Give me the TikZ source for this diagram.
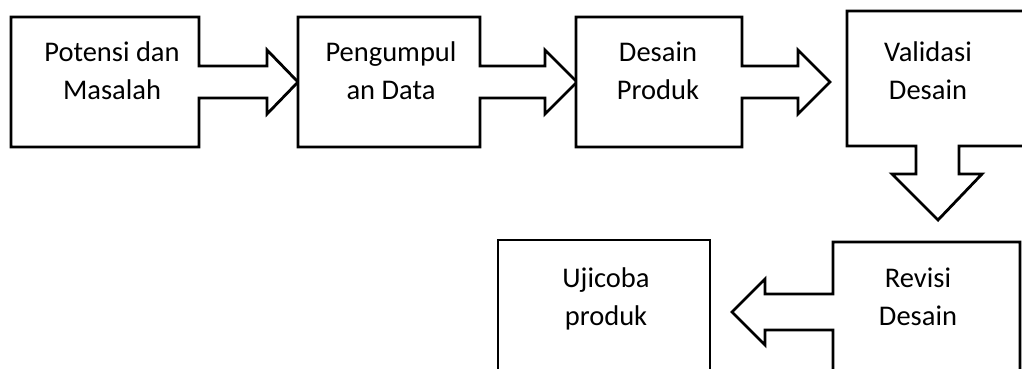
\documentclass[tikz,border=0pt]{standalone}
\usepackage{fontspec}
\setmainfont{Carlito}
\begin{document}
\begin{tikzpicture}[x=1pt,y=-1pt,
  shapeline/.style={draw=black,line width=2.8pt,line join=miter,fill=white},
  lbl/.style={anchor=base,inner sep=0pt,text width=220pt,align=flush center,
    font=\fontsize{28.5pt}{38pt}\selectfont}]
\useasboundingbox (0,0) rectangle (1022,369);
\clip (0,0) rectangle (1022,369);
% Box 1 callout
\draw[shapeline] (11,17) -- (199,17) -- (199,66) -- (267,66) -- (267,50) -- (298,82)
  -- (267,114) -- (267,98) -- (199,98) -- (199,147) -- (11,147) -- cycle;
% Box 2 callout
\draw[shapeline] (298,17) -- (480,17) -- (480,66) -- (545,66) -- (545,50) -- (577,82)
  -- (545,114) -- (545,98) -- (480,98) -- (480,147) -- (298,147) -- cycle;
% Box 3 callout
\draw[shapeline] (576,17) -- (742,17) -- (742,66) -- (798,66) -- (798,50) -- (830,82)
  -- (798,114) -- (798,98) -- (742,98) -- (742,147) -- (576,147) -- cycle;
% Box 4 callout (down)
\draw[shapeline] (847,11) -- (1040,11) -- (1040,146) -- (959,146) -- (959,174) -- (982,174)
  -- (938,220) -- (892,174) -- (916,174) -- (916,146) -- (847,146) -- cycle;
% Box 5 callout (left)
\draw[shapeline] (833,242) -- (1020,242) -- (1020,390) -- (833,390) -- (833,330) -- (765,330)
  -- (765,345) -- (732,312) -- (765,279) -- (765,294) -- (833,294) -- cycle;
% Box 6
\draw[shapeline] (498,240) -- (710,240) -- (710,390) -- (498,390) -- cycle;
% Labels
\node[lbl] (t1) at (112,61) {Potensi dan\\Masalah};
\node[lbl] (t2) at (391,61) {Pengumpul\\an Data};
\node[lbl] (t3) at (658,61) {Desain\\Produk};
\node[lbl] (t4) at (928,61) {Validasi\\Desain};
\node[lbl] (t5) at (918,287) {Revisi\\Desain};
\node[lbl] (t6) at (606,287) {Ujicoba\\produk};
\end{tikzpicture}
\end{document}
